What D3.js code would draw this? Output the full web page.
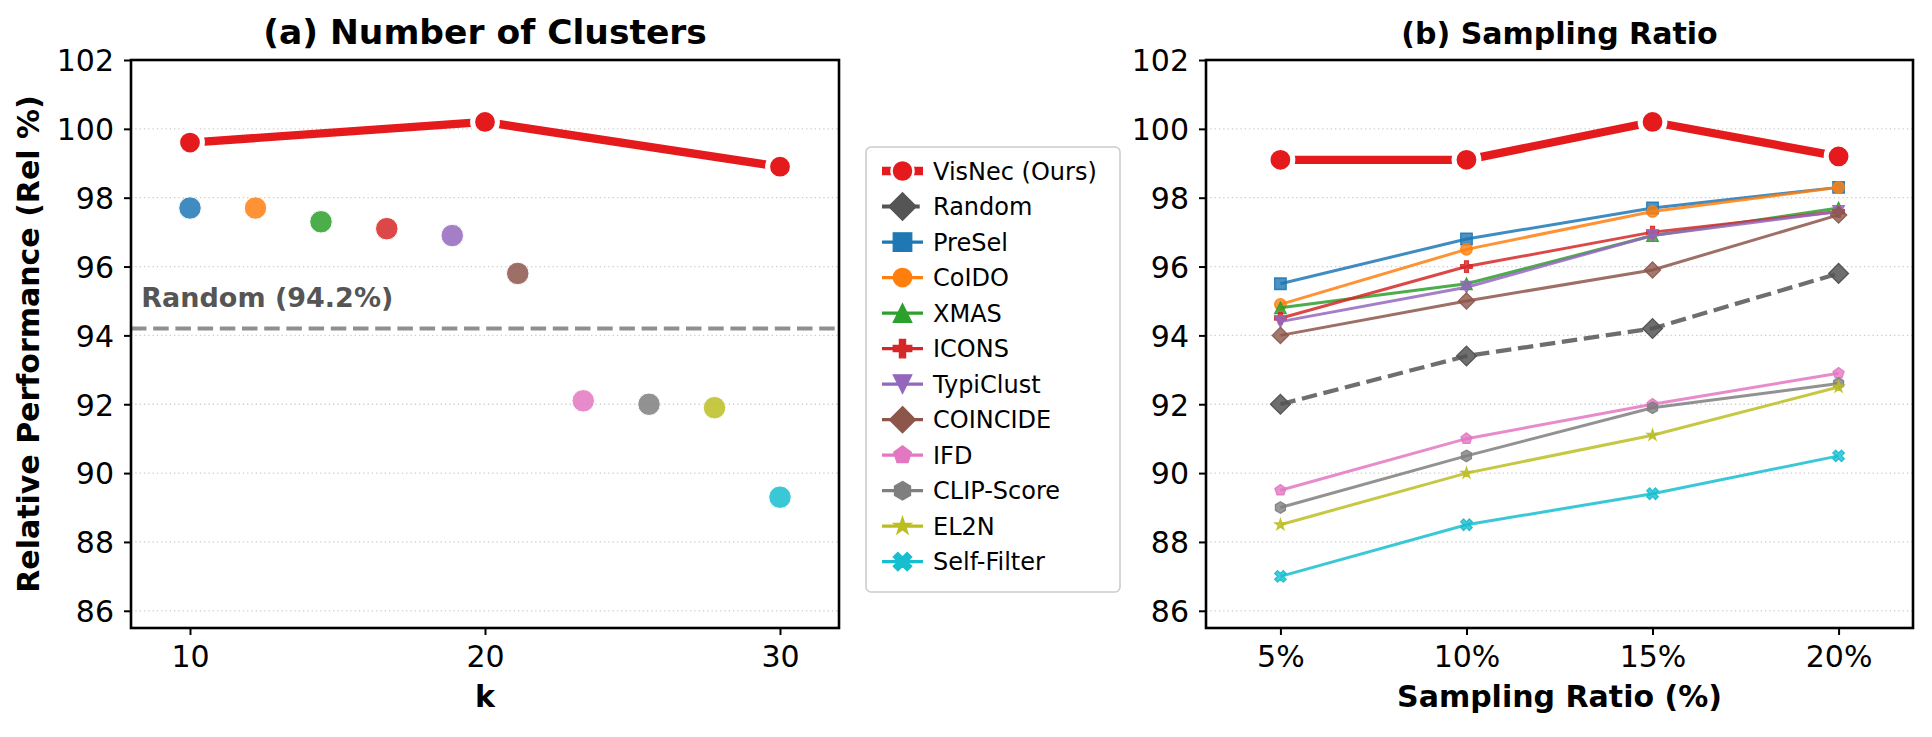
<!DOCTYPE html>
<html>
<head>
<meta charset="utf-8">
<script src="https://cdn.jsdelivr.net/npm/d3@7"></script>
<style>
  html, body { margin: 0; padding: 0; background: #ffffff; }
  svg { display: block; font-family: "DejaVu Sans", sans-serif; }
</style>
</head>
<body>
<svg id="chart" width="1932" height="737"></svg>
<script>
// ---------------- DATA ----------------
// Panel (a): Number of clusters
const kTicks = [10, 20, 30];
const visnecByK = [99.6, 100.2, 98.9];
const baselineNames = ["PreSel", "CoIDO", "XMAS", "ICONS", "TypiClust", "COINCIDE", "IFD", "CLIP-Score", "EL2N", "Self-Filter"];
const baselineKPos = [10, 12.22, 14.44, 16.67, 18.89, 21.11, 23.33, 25.56, 27.78, 30];
const baselineKScores = [97.7, 97.7, 97.3, 97.1, 96.9, 95.8, 92.1, 92.0, 91.9, 89.3];
const randomReference = 94.2;
const randomLabel = "Random (94.2%)";

// Panel (b): Sampling ratio
const ratioValues = [5, 10, 15, 20];
const ratioLabels = ["5%", "10%", "15%", "20%"];
const visnecRatio = [99.1, 99.1, 100.2, 99.2];
const randomRatio = [92.0, 93.4, 94.2, 95.8];
const preselRatio = [95.5, 96.8, 97.7, 98.3];
const coidoRatio = [94.9, 96.5, 97.6, 98.3];
const xmasRatio = [94.8, 95.5, 96.9, 97.7];
const iconsRatio = [94.5, 96.0, 97.0, 97.6];
const typiclustRatio = [94.4, 95.4, 96.9, 97.6];
const coincideRatio = [94.0, 95.0, 95.9, 97.5];
const ifdRatio = [89.5, 91.0, 92.0, 92.9];
const clipRatio = [89.0, 90.5, 91.9, 92.6];
const el2nRatio = [88.5, 90.0, 91.1, 92.5];
const selfFilterRatio = [87.0, 88.5, 89.4, 90.5];

const yTicks = [86, 88, 90, 92, 94, 96, 98, 100, 102];

// ---------------- STYLE ----------------
const methods = [
  { name: "VisNec (Ours)", values: visnecRatio, color: "#e41a1c", marker: "o" },
  { name: "Random", values: randomRatio, color: "#555555", marker: "D" },
  { name: "PreSel", values: preselRatio, color: "#1f77b4", marker: "s" },
  { name: "CoIDO", values: coidoRatio, color: "#ff7f0e", marker: "o" },
  { name: "XMAS", values: xmasRatio, color: "#2ca02c", marker: "^" },
  { name: "ICONS", values: iconsRatio, color: "#d62728", marker: "P" },
  { name: "TypiClust", values: typiclustRatio, color: "#9467bd", marker: "v" },
  { name: "COINCIDE", values: coincideRatio, color: "#8c564b", marker: "D" },
  { name: "IFD", values: ifdRatio, color: "#e377c2", marker: "p" },
  { name: "CLIP-Score", values: clipRatio, color: "#7f7f7f", marker: "h" },
  { name: "EL2N", values: el2nRatio, color: "#bcbd22", marker: "*" },
  { name: "Self-Filter", values: selfFilterRatio, color: "#17becf", marker: "X" }
];
const colorOf = name => methods.find(m => m.name === name).color;

function poly(pts, s) {
  return "M" + pts.map(p => (p[0] * s).toFixed(2) + "," + (p[1] * s).toFixed(2)).join("L") + "Z";
}
function regular(n, r, rot) {
  const pts = [];
  for (let i = 0; i < n; i++) {
    const a = -Math.PI / 2 + rot + i * 2 * Math.PI / n;
    pts.push([Math.cos(a) * r, Math.sin(a) * r]);
  }
  return pts;
}
function markerPath(type, s) {
  const h = s / 2;
  switch (type) {
    case "o": return `M${h},0A${h},${h} 0 1,1 ${-h},0A${h},${h} 0 1,1 ${h},0Z`;
    case "s": return poly([[-0.5, -0.5], [0.5, -0.5], [0.5, 0.5], [-0.5, 0.5]], s);
    case "D": { const d = Math.SQRT1_2; return poly([[0, -d], [d, 0], [0, d], [-d, 0]], s); }
    case "^": return poly([[0, -0.5], [0.5, 0.5], [-0.5, 0.5]], s);
    case "v": return poly([[0, 0.5], [0.5, -0.5], [-0.5, -0.5]], s);
    case "P": return poly([[-1, -3], [1, -3], [1, -1], [3, -1], [3, 1], [1, 1], [1, 3], [-1, 3], [-1, 1], [-3, 1], [-3, -1], [-1, -1]].map(p => [p[0] / 6, p[1] / 6]), s);
    case "X": return poly([[-1, -2], [0, -1], [1, -2], [2, -1], [1, 0], [2, 1], [1, 2], [0, 1], [-1, 2], [-2, 1], [-1, 0], [-2, -1]].map(p => [p[0] / 4, p[1] / 4]), s);
    case "p": return poly(regular(5, 0.5, 0), s);
    case "h": return poly(regular(6, 0.5, 0), s);
    case "*": {
      const pts = [];
      for (let i = 0; i < 10; i++) {
        const r = i % 2 === 0 ? 0.5 : 0.5 * 0.381966;
        const a = -Math.PI / 2 + i * Math.PI / 5;
        pts.push([Math.cos(a) * r, Math.sin(a) * r]);
      }
      return poly(pts, s);
    }
  }
}

// ---------------- LAYOUT ----------------
const svg = d3.select("#chart");
const plotTop = 60, plotBottom = 628;
const leftPanel = { x0: 131, x1: 839 };
const rightPanel = { x0: 1206, x1: 1913 };
const tickFont = 30;

const y = d3.scaleLinear().domain([85.5, 102]).range([plotBottom, plotTop]);
const xK = d3.scaleLinear().domain([8, 32]).range([leftPanel.x0, leftPanel.x1]);
const xR = d3.scaleLinear().domain([3, 22]).range([rightPanel.x0, rightPanel.x1]);

function drawFrame(panel, xScale, xTickVals, xTickFmt, title, titleSize, xlabel, showYLabel) {
  const g = svg.append("g");
  g.selectAll("line.grid").data(yTicks).join("line")
    .attr("x1", panel.x0).attr("x2", panel.x1)
    .attr("y1", d => y(d)).attr("y2", d => y(d))
    .attr("stroke", "#cccccc").attr("stroke-width", 1.3)
    .attr("stroke-dasharray", "1.3,3");
  const yAxis = d3.axisLeft(y).tickValues(yTicks).tickSize(7).tickPadding(10).tickFormat(d3.format("d"));
  const ya = g.append("g").attr("transform", `translate(${panel.x0},0)`).call(yAxis);
  const xAxis = d3.axisBottom(xScale).tickValues(xTickVals).tickSize(7).tickPadding(9).tickFormat(xTickFmt);
  const xa = g.append("g").attr("transform", `translate(0,${plotBottom})`).call(xAxis);
  [ya, xa].forEach(a => {
    a.select(".domain").remove();
    a.selectAll(".tick line").attr("stroke", "#000").attr("stroke-width", 2);
    a.selectAll(".tick text").attr("fill", "#000").attr("font-size", tickFont)
      .attr("font-family", "DejaVu Sans");
  });
  xa.selectAll(".tick text").attr("dy", "0.76em");
  ya.selectAll(".tick text").attr("dy", "0.36em");
  svg.append("text").attr("x", (panel.x0 + panel.x1) / 2).attr("y", 44)
    .attr("text-anchor", "middle").attr("font-weight", "bold").attr("font-size", titleSize)
    .text(title);
  svg.append("text").attr("x", (panel.x0 + panel.x1) / 2).attr("y", 707)
    .attr("text-anchor", "middle").attr("font-weight", "bold").attr("font-size", 30)
    .text(xlabel);
  if (showYLabel) {
    svg.append("text").attr("transform", `translate(39,${(plotTop + plotBottom) / 2}) rotate(-90)`)
      .attr("text-anchor", "middle").attr("font-weight", "bold").attr("font-size", 30)
      .text("Relative Performance (Rel %)");
  }
  return g;
}
function drawSpines(panel) {
  svg.append("rect").attr("x", panel.x0).attr("y", plotTop)
    .attr("width", panel.x1 - panel.x0).attr("height", plotBottom - plotTop)
    .attr("fill", "none").attr("stroke", "#000").attr("stroke-width", 2.6);
}

// ---------------- PANEL (a) ----------------
drawFrame(leftPanel, xK, kTicks, d3.format("d"), "(a) Number of Clusters", 34.5, "k", true);
const ga = svg.append("g");
ga.append("line")
  .attr("x1", leftPanel.x0).attr("x2", leftPanel.x1)
  .attr("y1", y(randomReference)).attr("y2", y(randomReference))
  .attr("stroke", "#8f8f8f").attr("stroke-width", 4.2).attr("stroke-dasharray", "15.5,6.7");
ga.append("text").attr("x", xK(8.35)).attr("y", 307)
  .attr("font-weight", "bold").attr("font-size", 27).attr("fill", "#555555")
  .text(randomLabel);
ga.selectAll("path.base").data(baselineNames).join("path")
  .attr("transform", (d, i) => `translate(${xK(baselineKPos[i])},${y(baselineKScores[i])})`)
  .attr("d", markerPath("o", 22.5))
  .attr("fill", d => colorOf(d)).attr("fill-opacity", 0.85)
  .attr("stroke", "#ffffff").attr("stroke-width", 1);
const visLineA = d3.line().x((d, i) => xK(kTicks[i])).y(d => y(d));
ga.append("path").datum(visnecByK).attr("d", visLineA)
  .attr("fill", "none").attr("stroke", "#e41a1c").attr("stroke-width", 8.3)
  .attr("stroke-linejoin", "round");
ga.selectAll("path.vis").data(visnecByK).join("path")
  .attr("transform", (d, i) => `translate(${xK(kTicks[i])},${y(d)})`)
  .attr("d", markerPath("o", 24.8))
  .attr("fill", "#e41a1c").attr("stroke", "#ffffff").attr("stroke-width", 5);
drawSpines(leftPanel);

// ---------------- PANEL (b) ----------------
drawFrame(rightPanel, xR, ratioValues, (d, i) => ratioLabels[i], "(b) Sampling Ratio", 30, "Sampling Ratio (%)", false);
const gb = svg.append("g");
const lineR = d3.line().x((d, i) => xR(ratioValues[i])).y(d => y(d));
const drawOrder = methods.slice(1).concat([methods[0]]);
drawOrder.forEach(m => {
  const g = gb.append("g");
  if (m.name === "VisNec (Ours)") {
    g.append("path").datum(m.values).attr("d", lineR)
      .attr("fill", "none").attr("stroke", m.color).attr("stroke-width", 8.3)
      .attr("stroke-linejoin", "round");
    g.selectAll("path.mk").data(m.values).join("path")
      .attr("transform", (d, i) => `translate(${xR(ratioValues[i])},${y(d)})`)
      .attr("d", markerPath("o", 24.8))
      .attr("fill", m.color).attr("stroke", "#ffffff").attr("stroke-width", 5);
  } else if (m.name === "Random") {
    g.append("path").datum(m.values).attr("d", lineR)
      .attr("fill", "none").attr("stroke", m.color).attr("stroke-opacity", 0.85)
      .attr("stroke-width", 4.2).attr("stroke-dasharray", "15.5,6.7");
    g.selectAll("path.mk").data(m.values).join("path")
      .attr("transform", (d, i) => `translate(${xR(ratioValues[i])},${y(d)})`)
      .attr("d", markerPath("D", 14))
      .attr("fill", m.color).attr("fill-opacity", 0.85)
      .attr("stroke", m.color).attr("stroke-width", 1.3);
  } else {
    g.append("path").datum(m.values).attr("d", lineR)
      .attr("fill", "none").attr("stroke", m.color).attr("stroke-opacity", 0.85)
      .attr("stroke-width", 3);
    g.selectAll("path.mk").data(m.values).join("path")
      .attr("transform", (d, i) => `translate(${xR(ratioValues[i])},${y(d)})`)
      .attr("d", markerPath(m.marker, 11.5))
      .attr("fill", m.color).attr("fill-opacity", 0.8)
      .attr("stroke", m.color).attr("stroke-opacity", 0.9).attr("stroke-width", 1.3);
  }
});
drawSpines(rightPanel);

// ---------------- LEGEND ----------------
const legend = svg.append("g");
const lgX0 = 866, lgX1 = 1120, lgY0 = 147, lgY1 = 592;
legend.append("rect").attr("x", lgX0).attr("y", lgY0)
  .attr("width", lgX1 - lgX0).attr("height", lgY1 - lgY0)
  .attr("rx", 5).attr("fill", "#ffffff").attr("fill-opacity", 0.9)
  .attr("stroke", "#cccccc").attr("stroke-width", 1.6);
const rowY = d3.scaleLinear().domain([0, methods.length - 1]).range([171, 561.7]);
methods.forEach((m, i) => {
  const cy = rowY(i);
  const g = legend.append("g");
  if (m.name === "VisNec (Ours)") {
    g.append("line").attr("x1", 882).attr("x2", 923).attr("y1", cy).attr("y2", cy)
      .attr("stroke", m.color).attr("stroke-width", 8.3);
    g.append("path").attr("transform", `translate(902.5,${cy})`).attr("d", markerPath("o", 22))
      .attr("fill", m.color).attr("stroke", "#ffffff").attr("stroke-width", 2.5);
  } else {
    g.append("line").attr("x1", 882).attr("x2", 923).attr("y1", cy).attr("y2", cy)
      .attr("stroke", m.color).attr("stroke-width", m.name === "Random" ? 4.2 : 3.2)
      .attr("stroke-dasharray", m.name === "Random" ? "15.5,6.7" : null);
    g.append("path").attr("transform", `translate(902.5,${cy})`)
      .attr("d", markerPath(m.marker, m.name === "Random" ? 19.5 : 18.5))
      .attr("fill", m.color).attr("stroke", m.color).attr("stroke-width", 1.3);
  }
  g.append("text").attr("x", 933).attr("y", cy + 8.7)
    .attr("font-size", 24).attr("fill", "#000").text(m.name);
});
</script>
</body>
</html>
